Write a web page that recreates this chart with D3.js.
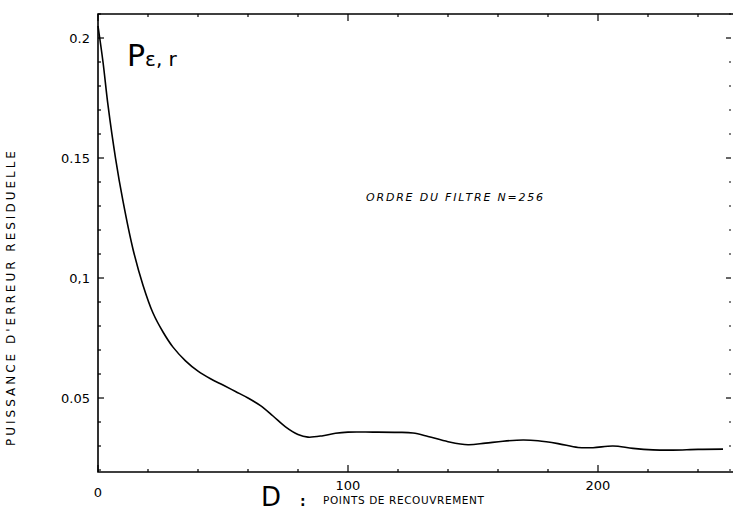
<!DOCTYPE html>
<html><head><meta charset="utf-8">
<script src="https://cdn.jsdelivr.net/npm/d3@7"></script>
<style>
body{margin:0;background:#fff;}
svg{display:block;}
text{font-family:"DejaVu Sans","Liberation Sans",sans-serif;fill:#000;}
</style></head>
<body><svg id="c" width="733" height="512"></svg>
<script>
const D = [0,2,4,7,10,14,18,22,26,30,35,40,45,50,55,60,65,70,75,80,84,90,95,100,110,120,126,132,140,148,155,162,170,176,184,192,198,206,214,222,230,240,250];
const P = [0.205,0.190,0.172,0.150,0.132,0.112,0.097,0.0854,0.0775,0.0712,0.0655,0.0612,0.058,0.0554,0.0527,0.050,0.0468,0.0425,0.038,0.0348,0.0337,0.0343,0.0353,0.0358,0.0358,0.0357,0.0354,0.034,0.0318,0.0305,0.0312,0.032,0.0325,0.0322,0.031,0.0294,0.0293,0.030,0.029,0.0284,0.0283,0.0286,0.0287];
const yTicks = [0.05,0.1,0.15,0.2];
const yTickLabels = ["0.05","0,1","0.15","0.2"];
const xTicks = [0,100,200];
const xTickLabels = ["0","100","200"];
const yMinor = d3.range(0.02,0.2101,0.01);
const xMinor = d3.range(0,255,20);

const svg = d3.select("#c");
const L=98, T=14, R=733, B=472;
const x = d3.scaleLinear().domain([0,254]).range([L,R]);
const y = d3.scaleLinear().domain([0.01917,0.21]).range([B,T]);

// frame
const g = svg.append("g").attr("stroke","#000").attr("fill","none");
g.append("path").attr("d",`M${R},${T}H${L}V${B}H${R}`).attr("stroke-width",1.6);

// left ticks (inward)
yMinor.forEach(v=>{
  const major = yTicks.some(t=>Math.abs(t-v)<1e-6);
  g.append("line").attr("x1",L).attr("x2",L+(major?6:3)).attr("y1",y(v)).attr("y2",y(v)).attr("stroke-width",1.2);
  g.append("line").attr("x1",R-2).attr("x2",R-2-(major?5:2)).attr("y1",y(v)).attr("y2",y(v)).attr("stroke-width",1.2);
});
// bottom & top ticks
xMinor.forEach(v=>{
  const major = xTicks.includes(v);
  g.append("line").attr("x1",x(v)).attr("x2",x(v)).attr("y1",B).attr("y2",B-(major?7:3)).attr("stroke-width",1.2);
  g.append("line").attr("x1",x(v)).attr("x2",x(v)).attr("y1",T).attr("y2",T+(major?7:3)).attr("stroke-width",1.2);
});

// tick labels
yTicks.forEach((t,i)=>{
  svg.append("text").attr("x",L-8).attr("y",y(t)+5).attr("text-anchor","end").attr("font-size",13).text(yTickLabels[i]);
});
xTicks.forEach((t,i)=>{
  svg.append("text").attr("x",x(t)).attr("y",i===0?497:490).attr("text-anchor","middle").attr("font-size",13).text(xTickLabels[i]);
});

// curve
const line = d3.line().x((d,i)=>x(D[i])).y(d=>y(d)).curve(d3.curveCatmullRom.alpha(0.5));
svg.append("path").datum(P).attr("d",line).attr("fill","none").attr("stroke","#000").attr("stroke-width",1.6);

// labels
const pt = svg.append("text").attr("x",127).attr("y",66).attr("font-size",30);
pt.append("tspan").text("P");
pt.append("tspan").attr("font-size",20).text("ε, r");

svg.append("text").attr("x",366).attr("y",201).attr("font-size",11).attr("font-style","italic").attr("letter-spacing",1.8).text("ORDRE DU FILTRE N=256");

svg.append("text").attr("transform","translate(15,297) rotate(-90)").attr("text-anchor","middle").attr("font-size",12).attr("letter-spacing",3).text("PUISSANCE D'ERREUR RESIDUELLE");

svg.append("text").attr("x",261).attr("y",506).attr("font-size",26).text("D");
svg.append("text").attr("x",300).attr("y",506).attr("font-size",14).attr("font-weight","bold").text(":");
svg.append("text").attr("x",323).attr("y",504).attr("font-size",10.5).attr("letter-spacing",0.6).text("POINTS DE RECOUVREMENT");
</script></body></html>
